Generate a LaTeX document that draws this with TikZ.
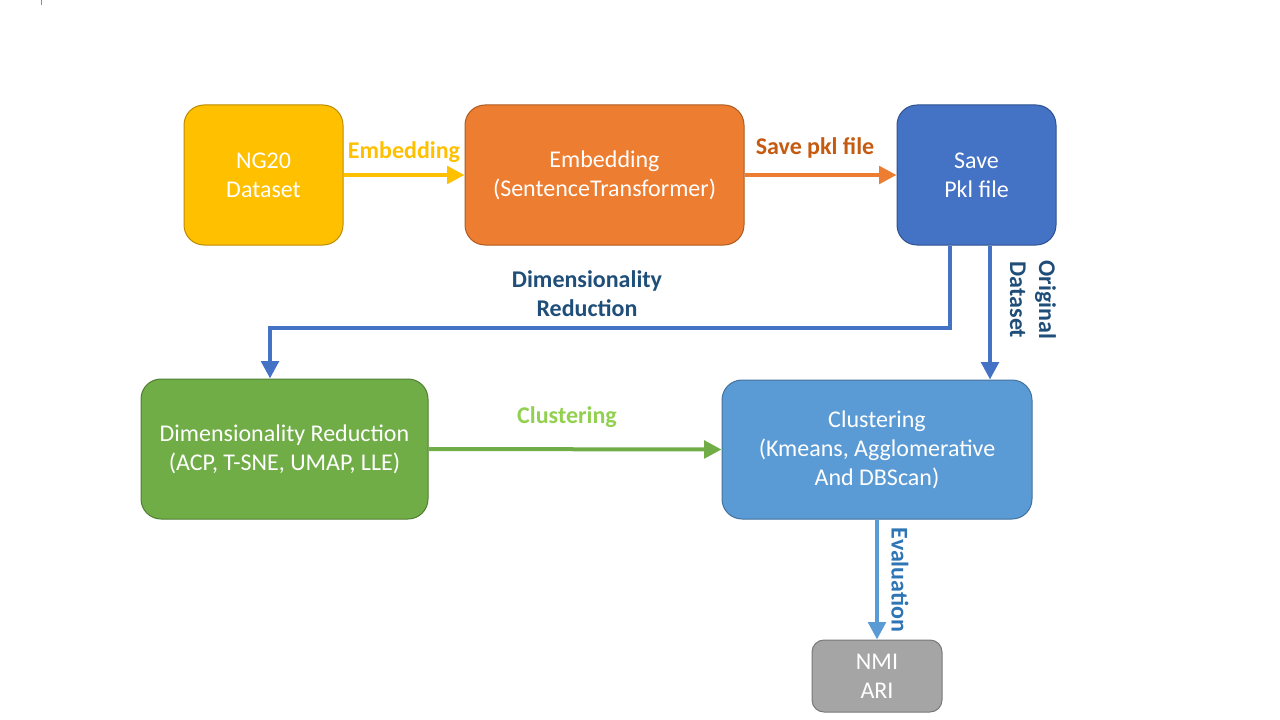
\documentclass[tikz,border=0pt]{standalone}
\usepackage{fontspec}
\setmainfont{Carlito}
\usetikzlibrary{arrows.meta,calc}
\definecolor{cyel}{HTML}{FFC000}
\definecolor{cyelb}{HTML}{BC8C00}
\definecolor{cora}{HTML}{ED7D31}
\definecolor{corab}{HTML}{AE5A21}
\definecolor{cblu}{HTML}{4472C4}
\definecolor{cblub}{HTML}{2F528F}
\definecolor{cgrn}{HTML}{70AD47}
\definecolor{cgrnb}{HTML}{507E32}
\definecolor{clbl}{HTML}{5B9BD5}
\definecolor{clblb}{HTML}{41719C}
\definecolor{cgry}{HTML}{A5A5A5}
\definecolor{cgryb}{HTML}{787878}
\definecolor{tora}{HTML}{C55A11}
\definecolor{tdbl}{HTML}{1F4E79}
\definecolor{tlgr}{HTML}{92D050}
\definecolor{tmbl}{HTML}{2E75B6}
\tikzset{
  boxst/.style={draw, line width=0.75pt, rounded corners=15pt, text=white, align=center,
    inner sep=0pt, font=\fontsize{18pt}{21.75pt}\selectfont},
  arr/.style={line width=3pt, -{Triangle[length=13pt,width=13pt]}},
  lbl/.style={font=\fontsize{18pt}{21.75pt}\selectfont\bfseries, align=center, inner sep=0pt}
}
\begin{document}
\begin{tikzpicture}[x=0.75pt,y=-0.75pt]
\useasboundingbox (0,0) rectangle (1280,720);
\draw[clbl, line width=0.75pt] (41,0) -- (41,5);
% boxes
\node[boxst, fill=cyel, draw=cyelb, minimum width=159*0.75pt, minimum height=140*0.75pt] (ng) at (263.5,175) {NG20\\Dataset};
\node[boxst, fill=cora, draw=corab, minimum width=279*0.75pt, minimum height=140*0.75pt] (emb) at (604.5,175) {Embedding\\(SentenceTransformer)};
\node[boxst, fill=cblu, draw=cblub, minimum width=159*0.75pt, minimum height=140*0.75pt] (save) at (976.5,175) {Save\\Pkl file};
\node[boxst, fill=cgrn, draw=cgrnb, minimum width=287*0.75pt, minimum height=140*0.75pt] (dimred) at (284.5,449) {Dimensionality Reduction\\(ACP, T-SNE, UMAP, LLE)};
\node[boxst, fill=clbl, draw=clblb, minimum width=310*0.75pt, minimum height=139*0.75pt] (clust) at (877,449.5) {Clustering\\(Kmeans, Agglomerative\\And DBScan)};
\node[boxst, fill=cgry, draw=cgryb, rounded corners=9pt, minimum width=130*0.75pt, minimum height=72*0.75pt] (nmi) at (877,676) {NMI\\ARI};
% connectors
\draw[arr, cyel] (ng.east) -- (emb.west);
\draw[arr, cora] (emb.east) -- (save.west);
\draw[arr, cblu, line join=miter] ($(save.south)+(-27,0)$) -- ++(0,82) -| ($(dimred.north)+(-14.5,0)$);
\draw[arr, cblu] ($(save.south)+(13.5,0)$) -- ($(clust.north)+(113,0)$);
\draw[arr, cgrn] (dimred.east) -- (clust.west);
\draw[arr, clbl] (clust.south) -- (nmi.north);
% labels
\node[lbl, text=cyel] (l1) at (404,152) {Embedding};
\node[lbl, text=tora] (l2) at (815,148) {Save pkl file};
\node[lbl, text=tdbl] (l3) at (587,294) {Dimensionality\\Reduction};
\node[lbl, text=tdbl, rotate=-90] (l4) at (1033,300) {Original\\Dataset};
\node[lbl, text=tlgr, font=\fontsize{18pt}{21.75pt}\selectfont\bfseries] (l5) at (567,417) {Clustering};
\node[lbl, text=tmbl, rotate=-90] (l6) at (900,580) {Evaluation};
\end{tikzpicture}
\end{document}
